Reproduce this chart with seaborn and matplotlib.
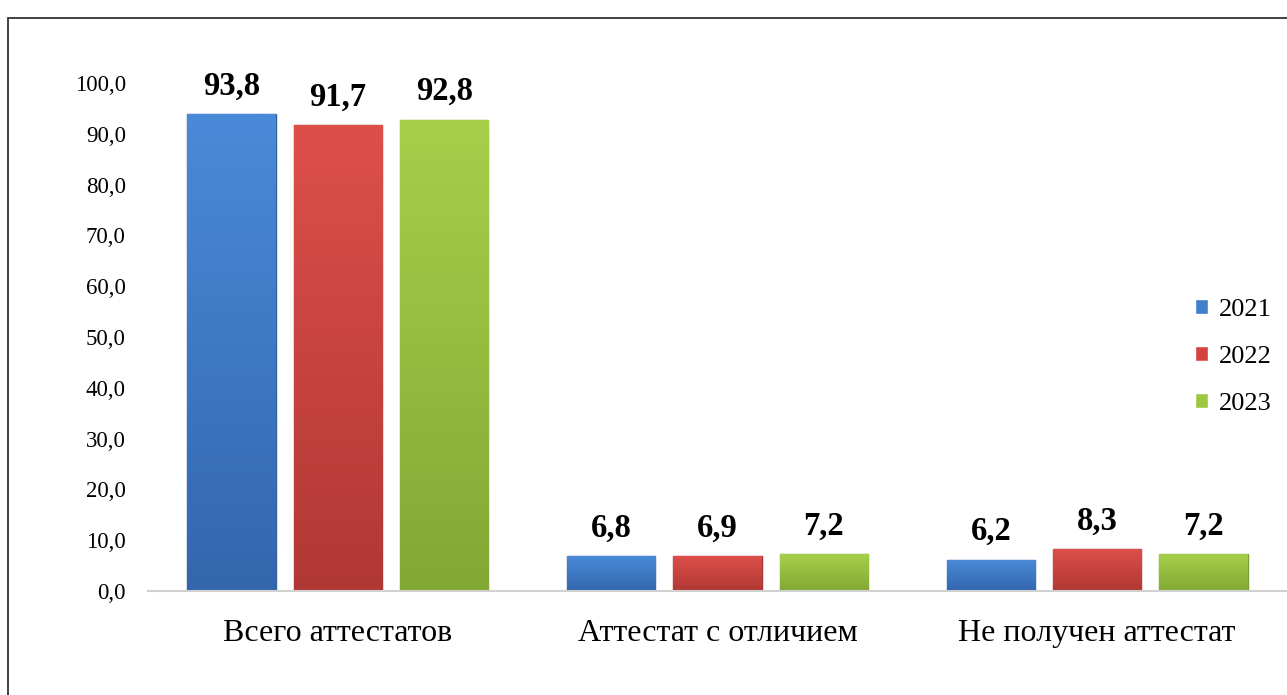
import matplotlib
matplotlib.use("Agg")
import matplotlib.pyplot as plt
import matplotlib.patches as mpatches
from matplotlib.colors import LinearSegmentedColormap
from matplotlib.ticker import FuncFormatter, FixedLocator
import seaborn as sns
import pandas as pd
import numpy as np

categories = ["Всего аттестатов", "Аттестат с отличием", "Не получен аттестат"]
years = ["2021", "2022", "2023"]
values_2021 = [93.8, 6.8, 6.2]
values_2022 = [91.7, 6.9, 8.3]
values_2023 = [92.8, 7.2, 7.2]
y_ticks = [0, 10, 20, 30, 40, 50, 60, 70, 80, 90, 100]

colors = ["#3f7fcb", "#d4423f", "#9dc73f"]
top_colors = ["#4a8ad8", "#de4f4a", "#a6d04a"]
bottom_colors = ["#3466ad", "#b03834", "#82a834"]
edge_colors = ["#2e62a3", "#a93230", "#7a9f2c"]

rows = []
for yr, vals in zip(years, [values_2021, values_2022, values_2023]):
    for c, v in zip(categories, vals):
        rows.append({"Категория": c, "Год": yr, "Значение": v})
df = pd.DataFrame(rows)

sns.set_theme(style="white")
plt.rcParams["font.family"] = ["Liberation Serif", "DejaVu Serif"]
plt.rcParams["text.color"] = "black"
plt.rcParams["xtick.color"] = "black"
plt.rcParams["ytick.color"] = "black"

W, H = 1287, 695
fig = plt.figure(figsize=(W / 100, H / 100), dpi=100)
ax = fig.add_axes([148 / W, 1 - 591 / H, 1 - 148 / W, (591 - 83) / H])

sns.barplot(data=df, x="Категория", y="Значение", hue="Год", order=categories,
            hue_order=years, palette=colors, width=0.84, gap=0.17,
            errorbar=None, ax=ax, legend=True, saturation=1)

ax.set_ylim(0, 100)
ax.set_xlim(-0.5, 2.5)

grad = np.linspace(0, 1, 256).reshape(-1, 1)
for i, cont in enumerate(ax.containers):
    cmap = LinearSegmentedColormap.from_list(f"g{i}", [bottom_colors[i], top_colors[i]])
    for p in cont.patches:
        p.set_edgecolor(edge_colors[i])
        p.set_linewidth(1.0)
        x0, y0 = p.get_x(), p.get_y()
        w, h = p.get_width(), p.get_height()
        im = ax.imshow(grad, cmap=cmap, origin="lower", aspect="auto",
                       extent=[x0, x0 + w, y0, y0 + h], zorder=p.get_zorder() + 0.1)
        im.set_clip_path(p)
    ax.bar_label(cont, labels=[f"{v:.1f}".replace(".", ",") for v in cont.datavalues],
                 padding=9, fontsize=23.5, fontweight="bold", clip_on=False)

ax.set_ylim(0, 100)
ax.set_xlim(-0.5, 2.5)
ax.set_aspect("auto")
ax.yaxis.set_major_locator(FixedLocator(y_ticks))
ax.yaxis.set_major_formatter(FuncFormatter(lambda v, p: f"{v:.1f}".replace(".", ",")))
ax.tick_params(axis="y", labelsize=16.5, length=0, pad=16)
ax.set_xticks(range(len(categories)))
ax.set_xticklabels(categories)
ax.tick_params(axis="x", labelsize=23, length=0, pad=20)
ax.set_xticks([-0.5, 0.5, 1.5, 2.5], minor=True)
ax.tick_params(axis="x", which="minor", length=9, width=1.5, color="#d0d0d0")
ax.set_xlabel("")
ax.set_ylabel("")
for s in ["top", "right", "left"]:
    ax.spines[s].set_visible(False)
ax.spines["bottom"].set_color("#d0d0d0")
ax.spines["bottom"].set_linewidth(1.5)
ax.grid(False)

handles, labels = ax.get_legend_handles_labels()
ax.legend(handles, labels, loc="center left", bbox_to_anchor=(1195 / W, 1 - 357 / H),
          bbox_transform=fig.transFigure, frameon=False, fontsize=19,
          handlelength=0.5, handleheight=0.5, handletextpad=0.4, labelspacing=0.95,
          borderpad=0, borderaxespad=0)

frame = mpatches.Rectangle((8 / W, -0.05), 1.2, 1 - 18 / H + 0.05, transform=fig.transFigure,
                           fill=False, edgecolor="#333333", linewidth=1.3, clip_on=False)
fig.patches.append(frame)

fig.savefig("out.png", dpi=100)
